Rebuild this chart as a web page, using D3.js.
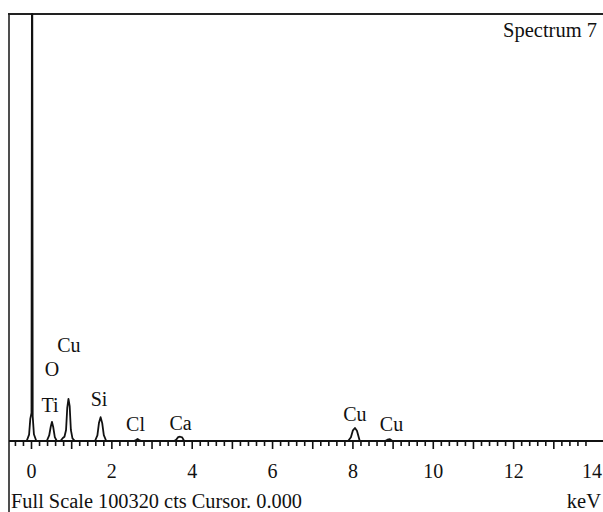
<!DOCTYPE html>
<html><head><meta charset="utf-8">
<script src="https://cdn.jsdelivr.net/npm/d3@7"></script>
<style>body{margin:0;background:#fff}svg{display:block}text{font-family:"Liberation Serif","Times New Roman",serif;fill:#111}</style>
</head><body>
<script>
// keV sample points of the spectrum and their counts
const energy = [-0.56,-0.12,-0.06,-0.03,0.0,0.01,0.02,0.03,0.06,0.12,0.38,0.44,0.48,0.51,0.54,0.58,0.63,0.72,0.78,0.82,0.86,0.89,0.92,0.95,0.98,1.02,1.08,1.58,1.64,1.68,1.72,1.76,1.8,1.86,2.55,2.6,2.64,2.68,2.73,3.55,3.6,3.65,3.7,3.75,3.8,7.88,7.95,8.0,8.05,8.1,8.17,8.8,8.86,8.92,8.98,14.224];
const counts = [0,0,1500,5200,6600,100320,100320,5800,1600,0,0,1300,3400,4500,3300,900,0,0,700,1000,2600,7800,9900,8200,2600,600,0,0,1300,4300,5600,4200,1400,0,0,250,470,250,0,0,300,900,1000,850,0,0,900,2500,3050,2400,0,0,300,450,0,0];
// peak labels
const labelText = ["O","Cu","Ti","Si","Cl","Ca","Cu","Cu"];
const labelKeV = [0.51,0.93,0.46,1.68,2.59,3.71,8.05,8.96];
const labelCounts = [15200,20900,6700,8200,2350,2600,4800,2350];
const tickValues = [0,2,4,6,8,10,12,14];
const fullScale = 100320;

const W=603,H=512;
const svg=d3.select("body").append("svg").attr("width",W).attr("height",H);
const x=d3.scaleLinear().domain([-0.56,14.224]).range([9,603]);
const y=d3.scaleLinear().domain([0,fullScale]).range([441,14]);

// frame
svg.append("line").attr("x1",9).attr("x2",9).attr("y1",13).attr("y2",512).attr("stroke","#222").attr("stroke-width",1.6);
svg.append("line").attr("x1",8).attr("x2",603).attr("y1",14).attr("y2",14).attr("stroke","#222").attr("stroke-width",2);

// spectrum
const pts=energy.map((e,i)=>[e,counts[i]]);
svg.append("path").datum(pts)
  .attr("d",d3.line().x(d=>x(d[0])).y(d=>y(d[1])))
  .attr("fill","none").attr("stroke","#111").attr("stroke-width",1.8).attr("stroke-linejoin","round");

// axis
const minor=d3.range(0,72).map(i=>-0.4+i*0.2).filter(v=>v<=14.2);
const ax=svg.append("g").attr("transform","translate(0,441)");
ax.append("line").attr("x1",9).attr("x2",603).attr("y1",0).attr("y2",0).attr("stroke","#111").attr("stroke-width",2);
ax.selectAll("line.t").data(minor).enter().append("line").attr("class","t")
  .attr("x1",d=>x(d)).attr("x2",d=>x(d)).attr("y1",0)
  .attr("y2",d=>Math.abs(d-Math.round(d))<1e-6?8:5)
  .attr("stroke","#111").attr("stroke-width",1.6);
ax.selectAll("text").data(tickValues).enter().append("text")
  .attr("x",d=>d===14?602:x(d)).attr("y",37)
  .attr("text-anchor",d=>d===14?"end":"middle").attr("font-size",20).text(d=>d);

// peak labels
svg.selectAll("text.pk").data(labelText).enter().append("text").attr("class","pk")
  .attr("x",(d,i)=>x(labelKeV[i])).attr("y",(d,i)=>y(labelCounts[i]))
  .attr("text-anchor","middle").attr("font-size",20).text(d=>d);

svg.append("text").attr("x",597).attr("y",37).attr("text-anchor","end").attr("font-size",20.5).text("Spectrum 7");
svg.append("text").attr("x",11).attr("y",508).attr("font-size",20).attr("textLength",291).attr("lengthAdjust","spacingAndGlyphs").text("Full Scale 100320 cts Cursor. 0.000");
svg.append("text").attr("x",601).attr("y",508).attr("text-anchor","end").attr("font-size",20.5).text("keV");
</script>
</body></html>
